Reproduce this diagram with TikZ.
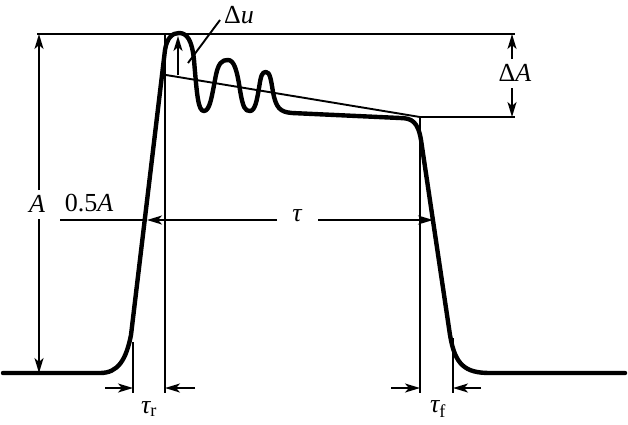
\documentclass[tikz,border=0pt]{standalone}
\usepackage{fontspec}
\setmainfont{Liberation Serif}
\usetikzlibrary{arrows.meta}
\begin{document}
\begin{tikzpicture}[x=1pt,y=-1pt,
  thinln/.style={line width=1.9pt},
  pulse/.style={line width=4.4pt,line join=round,line cap=round},
  dim/.style={line width=1.9pt,-{Stealth[length=15pt,width=9pt,inset=4pt]}},
  lbl/.style={inner sep=1pt,font=\fontsize{26}{26}\selectfont}]
\useasboundingbox (0,0) rectangle (628,424);
% pulse
\draw[pulse] (3,373) -- (100,373) .. controls (118,373) and (126,360) .. (131,335) -- (165,50)
  .. controls (167,38) and (172,33) .. (179,33)
  .. controls (187,33) and (192,40) .. (194,60)
  .. controls (197,95) and (198,111) .. (204,111)
  .. controls (210,111) and (212,95) .. (215,80)
  .. controls (218,62) and (222,60) .. (228,60)
  .. controls (234,60) and (237,70) .. (240,90)
  .. controls (243,108) and (245,111) .. (250,111)
  .. controls (255,111) and (257,100) .. (259,88)
  .. controls (261,75) and (262,72) .. (266,72)
  .. controls (270,72) and (271,80) .. (273,92)
  .. controls (276,108) and (280,112) .. (292,113)
  -- (400,118) .. controls (412,118) and (418,122) .. (421,140)
  -- (450,335) .. controls (455,365) and (465,373) .. (490,373) -- (625,373);
% reference coordinates
\coordinate (topL) at (37,34);
\coordinate (topR) at (515,34);
\coordinate (lowL) at (420,117);
\coordinate (lowR) at (515,117);
\coordinate (v1t) at (165,34);
\coordinate (v1b) at (165,393);
\coordinate (v2b) at (420,393);
\coordinate (rLt) at (133,342);
\coordinate (rLb) at (133,393);
\coordinate (fRt) at (453,338);
\coordinate (fRb) at (453,393);
\coordinate (slA) at (166,75);
\coordinate (slB) at (420,117);
\draw[thinln] (topL) -- (topR);
\draw[thinln] (lowL) -- (lowR);
\draw[thinln] (v1t) -- (v1b);
\draw[thinln] (lowL) -- (v2b);
\draw[thinln] (rLt) -- (rLb);
\draw[thinln] (fRt) -- (fRb);
\draw[thinln] (slA) -- (slB);
% tau_r and tau_f arrows
\coordinate (a1) at (105,388); \coordinate (a1e) at (133,388);
\coordinate (a2) at (195,388); \coordinate (a2e) at (165,388);
\coordinate (a3) at (391,388); \coordinate (a3e) at (420,388);
\coordinate (a4) at (481,388); \coordinate (a4e) at (453,388);
\draw[dim] (a1) -- (a1e);
\draw[dim] (a2) -- (a2e);
\draw[dim] (a3) -- (a3e);
\draw[dim] (a4) -- (a4e);
\node[lbl] (tr) at (149,409) {{\itshape τ}\textsubscript{\normalfont r}};
\node[lbl] (tf) at (438,409) {{\itshape τ}\textsubscript{\normalfont f}};
% tau
\node[lbl] (tau) at (297,216) {\itshape τ};
\coordinate (tauL) at (147,220);
\coordinate (tauR) at (433,220);
\draw[dim] (277,220) -- (tauL);
\draw[dim] (318,220) -- (tauR);
% 0.5A
\coordinate (hA) at (60,220);
\coordinate (hB) at (145,220);
\draw[thinln] (hA) -- (hB);
\node[lbl] (half) at (89,203) {0.5\textit{A}};
% A
\node[lbl] (A) at (37,204) {\textit{A}};
\coordinate (At) at (39,34);
\coordinate (Ab) at (39,373);
\draw[dim] (39,190) -- (At);
\draw[dim] (39,219) -- (Ab);
% Delta A
\node[lbl] (dA) at (515,73) {Δ\textit{A}};
\coordinate (dAt) at (512,34);
\coordinate (dAb) at (512,117);
\draw[dim] (512,59) -- (dAt);
\draw[dim] (512,88) -- (dAb);
% Delta u
\node[lbl] (du) at (239,15) {Δ\textit{u}};
\coordinate (duB) at (178,75);
\coordinate (duT) at (178,36);
\draw[dim] (duB) -- (duT);
\coordinate (ldA) at (220,20);
\coordinate (ldB) at (188,63);
\draw[thinln] (ldA) -- (ldB);
\end{tikzpicture}
\end{document}
